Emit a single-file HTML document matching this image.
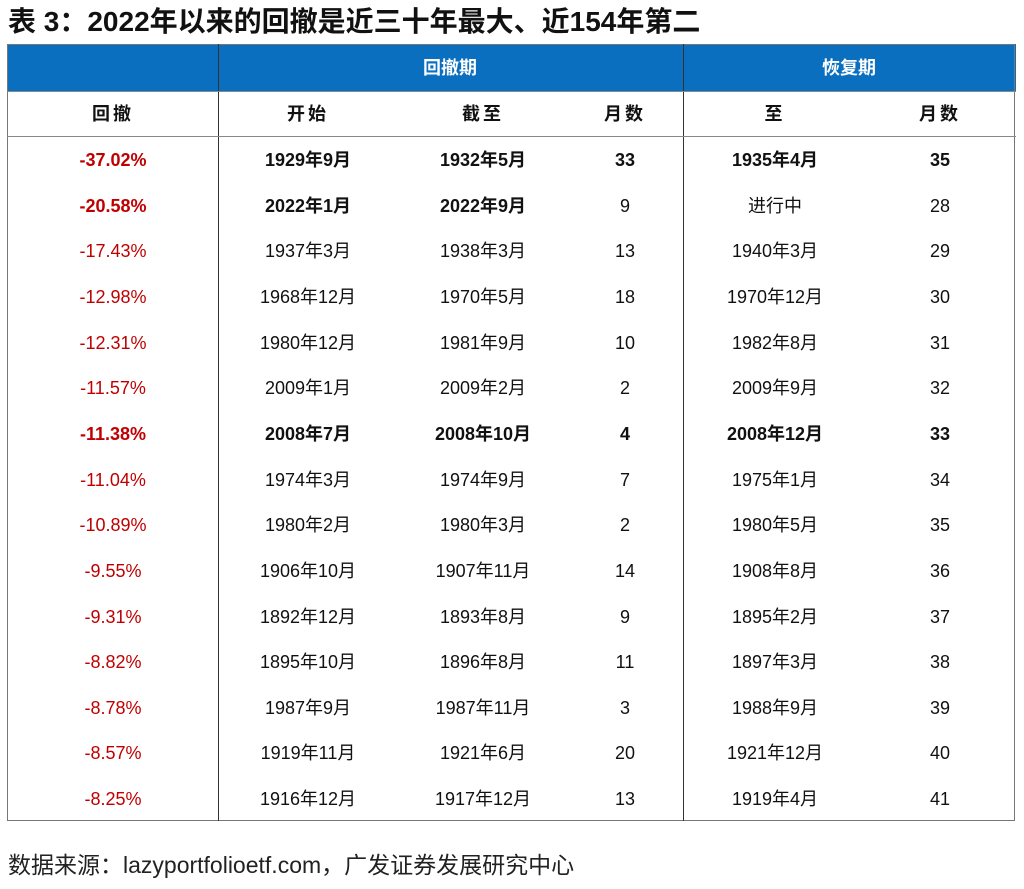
<!DOCTYPE html>
<html><head><meta charset="utf-8"><style>
body{margin:0;background:#fff;width:1024px;height:889px;position:relative;overflow:hidden;font-family:"Liberation Sans","Noto Sans CJK SC",sans-serif;color:#111}
.t{position:absolute;left:8px;top:4px;font-size:28px;font-weight:bold;white-space:nowrap;line-height:36px}
.tbl{position:absolute;left:7px;top:44px;width:1008px;height:777px;border:1px solid #777;box-sizing:border-box}
.band{position:absolute;left:7px;top:44px;width:1009px;height:47px;background:#0b6fc0}
.vl{position:absolute;top:44px;width:1px;height:777px;background:#333}
.hl{position:absolute;left:7px;width:1009px;height:1px;background:#888}
.c{position:absolute;transform:translate(-50%,-50%);white-space:nowrap;font-size:18px;height:26px;line-height:26px}
.src{position:absolute;left:8px;top:850px;font-size:23px;color:#222;line-height:30px}
</style></head><body>
<div class="t">表 3：2022年以来的回撤是近三十年最大、近154年第二</div>
<div class="band"></div>
<div class="tbl"></div>
<div class="vl" style="left:218px"></div>
<div class="vl" style="left:683px"></div>
<div class="hl" style="top:91px"></div>
<div class="hl" style="top:136px"></div>
<div class="c" style="left:450px;top:68px;color:#fff;font-weight:bold">回撤期</div>
<div class="c" style="left:849px;top:68px;color:#fff;font-weight:bold">恢复期</div>
<div id="rows"></div>
<div class="src">数据来源：lazyportfolioetf.com，广发证券发展研究中心</div>
<script>
const heads=["回撤","开始","截至","月数","至","月数"];
const dd=["-37.02%","-20.58%","-17.43%","-12.98%","-12.31%","-11.57%","-11.38%","-11.04%","-10.89%","-9.55%","-9.31%","-8.82%","-8.78%","-8.57%","-8.25%"];
const starts=["1929年9月","2022年1月","1937年3月","1968年12月","1980年12月","2009年1月","2008年7月","1974年3月","1980年2月","1906年10月","1892年12月","1895年10月","1987年9月","1919年11月","1916年12月"];
const ends=["1932年5月","2022年9月","1938年3月","1970年5月","1981年9月","2009年2月","2008年10月","1974年9月","1980年3月","1907年11月","1893年8月","1896年8月","1987年11月","1921年6月","1917年12月"];
const months=["33","9","13","18","10","2","4","7","2","14","9","11","3","20","13"];
const recov=["1935年4月","进行中","1940年3月","1970年12月","1982年8月","2009年9月","2008年12月","1975年1月","1980年5月","1908年8月","1895年2月","1897年3月","1988年9月","1921年12月","1919年4月"];
const rmonths=["35","28","29","30","31","32","33","34","35","36","37","38","39","40","41"];
const boldRows=[0,6];
const semiBold=[1];
const xs=[113,308,483,625,775,940];
const root=document.getElementById('rows');
function cell(txt,x,y,style,name){const d=document.createElement('div');d.className='c';d.textContent=txt;d.style.left=x+'px';d.style.top=y+'px';Object.assign(d.style,style||{});


root.appendChild(d);}
heads.forEach((h,i)=>cell(h,xs[i],114,{fontWeight:'bold',letterSpacing:'3px'},'column-header'));
dd.forEach((v,r)=>{const y=160+r*45.65;const b=boldRows.includes(r);const b2=b||semiBold.includes(r);
const cols=[dd[r],starts[r],ends[r],months[r],recov[r],rmonths[r]];
cols.forEach((t,i)=>{const st={};if(i==0)st.color='#c00000';
if(b)st.fontWeight='bold';else if(b2&&i<3)st.fontWeight='bold';
if(r==1&&i==4)st.fontWeight='normal';
cell(t,xs[i],y,st,'cell-r'+r+'-c'+i);});});
</script>
</body></html>
